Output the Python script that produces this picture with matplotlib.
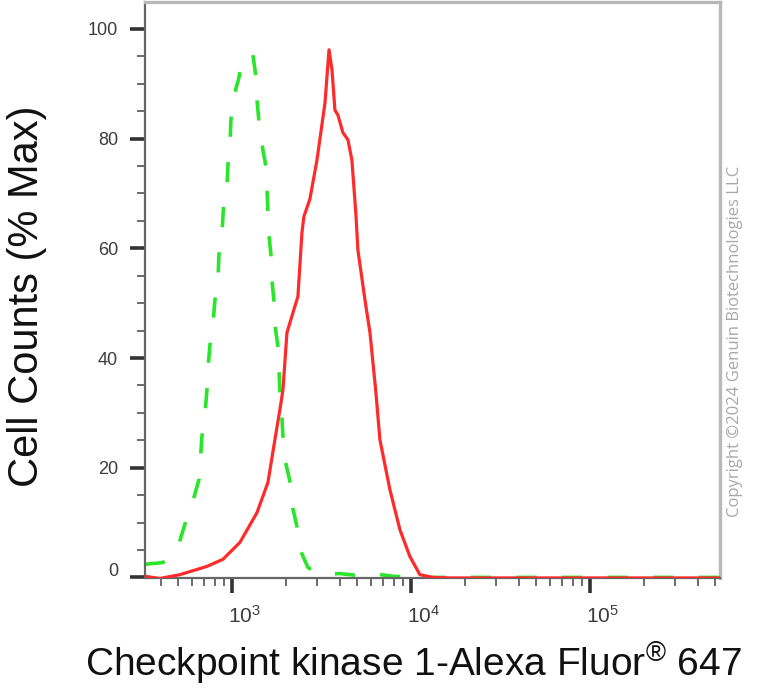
import matplotlib
matplotlib.use("Agg")
import matplotlib.pyplot as plt
from matplotlib.ticker import LogLocator, MultipleLocator, NullFormatter, FixedLocator
from matplotlib.transforms import ScaledTranslation

plt.rcParams['font.family'] = ['Liberation Sans', 'DejaVu Sans']

# isotype control (green, dashed)
ctrl_x = [327, 412, 499, 546, 598, 655, 680, 707, 725, 734, 754, 783, 804, 836, 846, 879,
          902, 937, 950, 975, 987, 1013, 1094, 1152, 1310, 1361, 1380, 1416, 1472, 1549,
          1570, 1589, 1610, 1652, 1672, 1718, 1738, 1807, 1832, 1854, 1903, 1928, 1978,
          2109, 2164, 2308, 2399, 2660, 3106, 4010, 4867, 6134, 7930, 11220, 50000, 536000]
ctrl_y = [2.4, 2.7, 5.5, 9.7, 13.3, 17.9, 25.7, 29.7, 34.2, 37.9, 42.4, 46.1, 50.6, 54.3,
          58.8, 62.5, 68.9, 70.7, 75.2, 78.9, 83.4, 87.1, 91.1, 94.7, 95.3, 91.3, 87.1, 83.1,
          78.9, 74.9, 70.7, 66.7, 62.5, 58.8, 54.3, 50.3, 46.1, 42.1, 37.9, 33.9, 29.1, 25.7,
          21.5, 17.5, 13.3, 9.3, 5.1, 1.8, 0.5, 0.7, 0.4, 0.7, 0.2, 0.0, 0.0, 0.0]

# Checkpoint kinase 1 stained (red, solid)
chk1_x = [327, 396, 512, 725, 891, 1109, 1380, 1589, 1738, 1854, 1928, 2029, 2218, 2337,
          2461, 2524, 2727, 2986, 3310, 3487, 3624, 3762, 3910, 4169, 4446, 4680, 4930, 5055,
          5537, 5906, 6374, 6711, 7630, 8680, 9870, 11220, 13270, 16500, 536000]
chk1_y = [0.2, -0.2, 0.5, 2.0, 3.3, 6.4, 11.8, 17.3, 25.1, 30.6, 34.2, 44.6, 48.8, 51.2,
          62.8, 65.8, 69.0, 76.1, 86.5, 96.2, 92.5, 85.2, 84.3, 81.1, 79.8, 76.1, 66.1, 59.7,
          50.6, 44.6, 33.7, 25.1, 16.0, 8.7, 3.8, 0.5, 0.0, -0.1, -0.1]

y_ticks = [0, 20, 40, 60, 80, 100]
x_ticks = [1e3, 1e4, 1e5]
x_tick_labels = [r'$\mathregular{10^{3}}$', r'$\mathregular{10^{4}}$', r'$\mathregular{10^{5}}$']

fig = plt.figure(figsize=(7.73, 6.90), dpi=100)
ax = fig.add_axes([0.187, 0.1616, 0.745, 0.8354])

ax.plot(ctrl_x, ctrl_y, color='#2ae62a', lw=2.6, dashes=(5.6, 7.0), zorder=2)
ax.plot(chk1_x, chk1_y, color='#ff2b2b', lw=2.3, zorder=3)

ax.set_xscale('log')
ax.set_xlim(325, 5.36e5)
ax.set_ylim(-0.2, 104.9)

ax.xaxis.set_major_locator(FixedLocator(x_ticks))
ax.xaxis.set_minor_locator(LogLocator(base=10, subs=range(2, 10), numticks=20))
ax.xaxis.set_minor_formatter(NullFormatter())
ax.set_xticklabels(x_tick_labels)
ax.set_yticks(y_ticks)
ax.yaxis.set_minor_locator(MultipleLocator(5))

ax.tick_params(which='major', direction='out', length=11, width=2.6, color='#333333',
               labelsize=13, labelcolor='#3c3c3c')
ax.tick_params(which='minor', direction='out', length=6, width=1.1, color='#444444')
ax.tick_params(axis='y', which='major', pad=8)
ax.tick_params(axis='x', which='major', pad=8, labelsize=15)

for side in ['left', 'bottom']:
    ax.spines[side].set_color('#666666')
    ax.spines[side].set_linewidth(1.6)
for side in ['top', 'right']:
    ax.spines[side].set_color('#b8b8b8')
    ax.spines[side].set_linewidth(2.4)

# x labels sit a little to the right of their ticks
for lab in ax.get_xticklabels():
    lab.set_transform(lab.get_transform() + ScaledTranslation(0.13, 0, fig.dpi_scale_trans))
# the 0 label is lifted above the axis line
ylabs = ax.get_yticklabels()
ylabs[0].set_transform(ylabs[0].get_transform() + ScaledTranslation(0, 0.08, fig.dpi_scale_trans))

fig.text(0.035, 0.57, 'Cell Counts (% Max)', rotation=90, fontsize=30,
         ha='center', va='center', color='#111111')
fig.text(0.535, 0.039, r'Checkpoint kinase 1-Alexa Fluor$\mathregular{^{®}}$ 647', fontsize=28,
         ha='center', va='center', color='#111111')
fig.text(0.951, 0.505, 'Copyright ©2024 Genuin Biotechnologies LLC', rotation=90,
         fontsize=12, family='Open Sans', color='#a8a8a8', ha='center', va='center')

fig.savefig('out.png', dpi=100)
